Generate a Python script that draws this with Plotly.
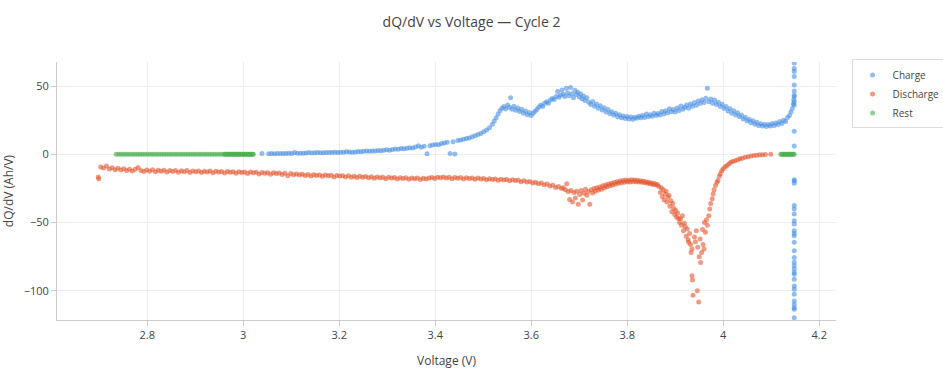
import plotly.graph_objects as go

# ---------------- data ----------------
charge_v = [
    3.039, 3.053, 3.059, 3.065, 3.071, 3.077, 3.083, 3.089, 3.095, 3.101, 3.107, 3.113, 3.119, 3.125,
    3.131, 3.137, 3.143, 3.149, 3.155, 3.161, 3.167, 3.173, 3.179, 3.185, 3.191, 3.197, 3.203, 3.209,
    3.215, 3.221, 3.227, 3.233, 3.239, 3.245, 3.251, 3.257, 3.263, 3.269, 3.275, 3.281, 3.287, 3.293,
    3.299, 3.305, 3.311, 3.317, 3.323, 3.329, 3.335, 3.341, 3.347, 3.353, 3.359, 3.365, 3.371, 3.377,
    3.383, 3.389, 3.395, 3.401, 3.407, 3.413, 3.419, 3.425, 3.431, 3.437, 3.441, 3.447, 3.453, 3.459,
    3.465, 3.471, 3.477, 3.483, 3.489, 3.495, 3.501, 3.507, 3.513, 3.519, 3.523, 3.527, 3.531, 3.535,
    3.539, 3.543, 3.547, 3.551, 3.555, 3.557, 3.560, 3.564, 3.568, 3.572, 3.576, 3.580, 3.584, 3.588,
    3.592, 3.596, 3.600, 3.604, 3.608, 3.612, 3.616, 3.620, 3.624, 3.628, 3.632, 3.636, 3.640, 3.644,
    3.648, 3.652, 3.655, 3.658, 3.661, 3.664, 3.667, 3.670, 3.673, 3.676, 3.679, 3.682, 3.685, 3.688,
    3.691, 3.694, 3.697, 3.700, 3.703, 3.706, 3.709, 3.712, 3.716, 3.720, 3.724, 3.728, 3.732, 3.736,
    3.740, 3.744, 3.748, 3.752, 3.756, 3.760, 3.764, 3.768, 3.772, 3.776, 3.780, 3.784, 3.788, 3.792,
    3.796, 3.800, 3.804, 3.808, 3.812, 3.816, 3.820, 3.824, 3.828, 3.832, 3.836, 3.840, 3.844, 3.848,
    3.852, 3.856, 3.860, 3.864, 3.868, 3.872, 3.876, 3.880, 3.884, 3.888, 3.892, 3.896, 3.900, 3.904,
    3.908, 3.912, 3.916, 3.920, 3.924, 3.928, 3.932, 3.936, 3.940, 3.944, 3.948, 3.952, 3.956, 3.960,
    3.964, 3.967, 3.970, 3.974, 3.978, 3.982, 3.986, 3.990, 3.994, 3.998, 4.002, 4.006, 4.010, 4.014,
    4.018, 4.022, 4.026, 4.030, 4.034, 4.038, 4.042, 4.046, 4.050, 4.054, 4.058, 4.062, 4.066, 4.070,
    4.074, 4.078, 4.082, 4.086, 4.090, 4.094, 4.098, 4.102, 4.106, 4.110, 4.114, 4.118, 4.122, 4.126,
    4.130, 4.134, 4.138, 4.141, 4.144, 4.146, 4.147,
    4.148, 4.148, 4.148, 4.148, 4.148, 4.148, 4.148, 4.148, 4.148, 4.148, 4.148, 4.148, 4.148, 4.148,
    4.148, 4.148, 4.148, 4.148, 4.148, 4.148, 4.148, 4.148, 4.148, 4.148, 4.148, 4.148, 4.148, 4.148,
    4.148, 4.148, 4.148, 4.148, 4.148, 4.148, 4.148, 4.148, 4.148, 4.148, 4.148, 4.148,
]
charge_dqdv = [
    0.6, 0.5, 0.6, 0.5, 0.7, 0.6, 0.7, 0.6, 0.8, 0.7, 1.3, 0.9, 0.8, 0.9,
    1.0, 1.3, 1.0, 1.1, 1.4, 1.2, 1.1, 1.3, 1.4, 1.3, 1.5, 1.4, 1.6, 1.5,
    1.9, 1.7, 1.5, 1.8, 2.1, 2.0, 2.3, 2.4, 2.3, 2.5, 2.4, 2.8, 2.6, 3.0,
    3.3, 3.1, 3.6, 4.0, 3.7, 4.3, 4.1, 4.5, 4.8, 4.6, 5.4, 6.3, 5.2, 6.0,
    0.4, 6.4, 6.9, 7.3, 7.1, 8.0, 8.4, 8.9, 0.6, 9.3, 0.2, 10.1, 10.6, 11.0,
    11.6, 12.0, 12.9, 13.6, 14.5, 15.3, 16.5, 17.9, 19.5, 22.0, 24.5, 26.8, 29.5, 32.0,
    33.8, 35.0, 33.2, 36.1, 34.5, 41.5, 33.0, 35.2, 32.4, 34.0, 31.5, 33.1, 30.2, 31.8,
    29.0, 30.6, 28.5, 30.4, 31.6, 33.0, 34.8, 36.2, 35.0, 37.5, 38.6, 37.4, 39.8, 41.0,
    40.2, 42.5, 46.0, 41.8, 43.5, 47.2, 44.0, 42.5, 48.5, 45.2, 43.0, 49.0, 44.5, 41.5,
    47.0, 43.8, 45.5, 42.0, 44.2, 40.8, 42.8, 39.5, 41.5, 38.2, 36.5, 38.8, 35.2, 37.0,
    33.8, 35.6, 32.5, 34.2, 31.0, 32.8, 29.8, 31.2, 28.8, 30.2, 27.6, 29.0, 26.9, 28.2,
    26.2, 27.8, 26.0, 27.4, 25.8, 27.2, 26.4, 28.0, 26.8, 28.4, 27.0, 29.5, 27.6, 29.0,
    28.0, 30.2, 28.4, 30.0, 28.8, 31.5, 29.6, 32.0, 30.4, 33.5, 31.2, 32.8, 31.0, 34.0,
    32.2, 35.5, 33.0, 34.6, 36.2, 33.8, 37.0, 35.2, 38.0, 36.0, 39.2, 37.2, 40.0, 38.0,
    41.2, 48.4, 38.5, 40.6, 37.4, 39.8, 36.5, 38.2, 35.0, 36.8, 33.6, 35.0, 31.8, 33.5,
    30.2, 32.0, 28.8, 30.5, 27.5, 28.8, 26.0, 27.2, 24.5, 25.8, 23.2, 24.6, 22.0, 23.5,
    21.2, 22.4, 20.8, 22.0, 20.5, 21.8, 20.8, 22.6, 21.2, 23.0, 21.8, 24.0, 22.6, 25.0,
    24.0, 27.0, 28.5, 31.0, 33.7, 37.0, 40.0,
    43.4, 46.5, 50.8, 57.0, 60.7, 63.0, 67.0, 42.3, 38.6, 36.1, 17.0, 6.2, -18.6, -19.5,
    -21.1, -37.5, -40.0, -43.7, -48.6, -51.0, -56.0, -58.0, -59.6, -64.5, -70.7, -75.6, -79.0, -81.7,
    -84.0, -86.6, -87.8, -91.5, -96.5, -98.9, -102.6, -107.5, -110.0, -112.4, -113.6, -119.7,
]

discharge_v = [
    2.698, 2.699, 2.703, 2.709, 2.715, 2.721, 2.727, 2.733, 2.739, 2.745, 2.751, 2.757, 2.763, 2.769,
    2.775, 2.781, 2.787, 2.793, 2.799, 2.805, 2.811, 2.817, 2.823, 2.829, 2.835, 2.841, 2.847, 2.853,
    2.859, 2.865, 2.871, 2.877, 2.883, 2.889, 2.895, 2.901, 2.907, 2.913, 2.919, 2.925, 2.931, 2.937,
    2.943, 2.949, 2.955, 2.961, 2.967, 2.973, 2.979, 2.985, 2.991, 2.997, 3.003, 3.009, 3.015, 3.021,
    3.027, 3.033, 3.039, 3.045, 3.051, 3.057, 3.063, 3.069, 3.075, 3.081, 3.087, 3.093, 3.099, 3.105,
    3.111, 3.117, 3.123, 3.129, 3.135, 3.141, 3.147, 3.153, 3.159, 3.165, 3.171, 3.177, 3.183, 3.189,
    3.195, 3.201, 3.207, 3.213, 3.219, 3.225, 3.231, 3.237, 3.243, 3.249, 3.255, 3.261, 3.267, 3.273,
    3.279, 3.285, 3.291, 3.297, 3.303, 3.309, 3.315, 3.321, 3.327, 3.333, 3.339, 3.345, 3.351, 3.357,
    3.363, 3.369, 3.375, 3.381, 3.387, 3.393, 3.399, 3.405, 3.411, 3.417, 3.423, 3.429, 3.435, 3.441,
    3.447, 3.453, 3.459, 3.465, 3.471, 3.477, 3.483, 3.489, 3.495, 3.501, 3.507, 3.513, 3.519, 3.525,
    3.531, 3.537, 3.543, 3.549, 3.555, 3.561, 3.567, 3.573, 3.579, 3.585, 3.591, 3.597, 3.603, 3.609,
    3.615, 3.621, 3.627, 3.633, 3.639, 3.645, 3.651, 3.657, 3.663, 3.667, 3.671, 3.674, 3.677, 3.680,
    3.683, 3.686, 3.689, 3.692, 3.695, 3.698, 3.701, 3.704, 3.707, 3.710, 3.713, 3.716, 3.719, 3.722,
    3.725, 3.728, 3.731, 3.734, 3.737, 3.740, 3.743, 3.746, 3.749, 3.752, 3.755, 3.758, 3.761, 3.764,
    3.767, 3.770, 3.773, 3.776, 3.779, 3.782, 3.785, 3.788, 3.791, 3.794, 3.797, 3.800, 3.803, 3.806,
    3.809, 3.812, 3.815, 3.818, 3.821, 3.824, 3.827, 3.830, 3.833, 3.836, 3.839, 3.842, 3.845, 3.848,
    3.851, 3.854, 3.857, 3.860, 3.863, 3.866, 3.869, 3.871, 3.873, 3.875, 3.877, 3.879, 3.881, 3.883,
    3.885, 3.887, 3.889, 3.891, 3.893, 3.895, 3.897, 3.899, 3.901, 3.903, 3.905, 3.907, 3.909, 3.911,
    3.913, 3.915, 3.917, 3.919, 3.921, 3.923, 3.925, 3.927, 3.928, 3.930, 3.932, 3.933, 3.935, 3.935,
    3.936, 3.937, 3.940, 3.942, 3.944, 3.946, 3.947, 3.949, 3.950, 3.952, 3.953, 3.955, 3.957, 3.958,
    3.960, 3.961, 3.963, 3.965, 3.967, 3.970, 3.972, 3.974, 3.977, 3.979, 3.981, 3.984, 3.987, 3.989,
    3.992, 3.994, 3.997, 4.000, 4.004, 4.008, 4.012, 4.016, 4.020, 4.025, 4.030, 4.035, 4.040, 4.046,
    4.052, 4.058, 4.064, 4.070, 4.076, 4.082, 4.088, 4.099,
]
discharge_dqdv = [
    -16.6, -17.9, -9.3, -10.0, -8.6, -10.8, -9.8, -11.2, -10.2, -11.5, -10.6, -11.9, -10.9, -12.2,
    -11.0, -9.6, -11.8, -12.6, -11.5, -12.3, -11.2, -12.8, -11.7, -12.4, -11.6, -13.0, -11.9, -12.5,
    -11.8, -13.1, -12.0, -12.7, -11.9, -13.2, -12.1, -12.8, -12.2, -13.3, -12.3, -12.9, -12.1, -13.4,
    -12.4, -13.0, -12.5, -13.6, -12.6, -13.1, -12.7, -13.8, -12.8, -13.3, -12.9, -14.0, -13.0, -13.5,
    -13.1, -14.3, -13.2, -13.8, -13.4, -14.6, -13.5, -14.1, -13.7, -14.8, -13.9, -15.6, -14.1, -14.9,
    -14.3, -15.2, -14.6, -15.5, -14.8, -15.8, -14.9, -15.4, -15.1, -16.0, -15.2, -15.7, -15.3, -16.5,
    -15.4, -15.9, -15.6, -16.6, -15.7, -16.7, -16.0, -17.0, -16.1, -16.8, -16.3, -17.2, -16.4, -17.5,
    -16.6, -17.1, -16.7, -17.8, -16.8, -17.3, -17.0, -18.0, -17.1, -17.6, -17.2, -18.2, -17.3, -17.9,
    -17.4, -18.4, -17.5, -18.1, -17.3, -16.9, -17.6, -16.8, -17.2, -16.6, -17.4, -16.7, -17.8, -16.9,
    -17.5, -17.0, -18.0, -17.2, -17.7, -17.3, -18.3, -17.4, -18.0, -17.6, -18.6, -17.8, -18.4, -18.0,
    -19.0, -18.2, -18.8, -18.4, -19.4, -18.6, -19.2, -18.9, -20.0, -19.3, -20.2, -19.8, -21.0, -20.4,
    -21.5, -21.0, -22.3, -21.8, -23.2, -22.6, -24.2, -23.5, -25.0, -24.4, -26.0, -21.6, -27.2, -33.0,
    -26.5, -35.0, -28.0, -32.0, -27.0, -36.5, -29.5, -26.4, -33.5, -28.5, -25.5, -30.0, -27.2, -36.5,
    -26.0, -28.4, -25.0, -27.0, -24.5, -26.2, -24.0, -25.5, -23.0, -24.6, -22.5, -23.8, -21.8, -23.0,
    -21.2, -22.4, -20.6, -21.8, -20.0, -21.2, -19.6, -20.8, -19.2, -20.4, -18.8, -20.0, -19.0, -20.2,
    -18.6, -19.8, -18.8, -20.0, -19.0, -20.2, -19.3, -20.5, -19.6, -20.8, -20.0, -21.2, -20.4, -21.6,
    -21.0, -22.0, -21.4, -22.4, -22.0, -23.5, -28.0, -24.5, -31.0, -26.0, -33.5, -29.0, -27.0, -35.0,
    -31.5, -30.0, -38.0, -34.0, -42.0, -36.0, -39.5, -44.0, -41.2, -46.0, -43.0, -47.0, -50.0, -47.3,
    -52.0, -45.0, -56.0, -50.5, -53.0, -60.0, -54.7, -62.5, -64.5, -58.0, -66.0, -72.0, -69.4, -89.0,
    -92.0, -103.3, -60.5, -64.0, -56.0, -100.0, -68.0, -108.2, -75.0, -62.0, -79.2, -72.0, -55.0, -66.0,
    -69.4, -50.0, -57.1, -48.0, -52.0, -44.9, -40.0, -36.0, -32.6, -29.0, -26.0, -22.8, -20.5, -19.1,
    -16.0, -14.2, -12.0, -10.5, -9.0, -8.1, -6.9, -5.8, -5.2, -4.6, -4.0, -3.3, -2.8, -2.2,
    -1.7, -1.2, -0.9, -0.6, -0.3, -0.2, -0.1, 0.0,
]

rest_v = [
    2.735, 2.740, 2.745, 2.750, 2.755, 2.760, 2.765, 2.770, 2.775, 2.780, 2.785, 2.790, 2.795, 2.800,
    2.805, 2.810, 2.815, 2.820, 2.825, 2.830, 2.835, 2.840, 2.845, 2.850, 2.855, 2.860, 2.865, 2.870,
    2.875, 2.880, 2.885, 2.890, 2.895, 2.900, 2.905, 2.910, 2.915, 2.920, 2.925, 2.930, 2.935, 2.940,
    2.945, 2.950, 2.955, 2.960, 2.962, 2.964, 2.966, 2.968, 2.970, 2.972, 2.974, 2.976, 2.978, 2.980,
    2.982, 2.984, 2.986, 2.988, 2.990, 2.992, 2.994, 2.996, 2.998, 3.000, 3.002, 3.004, 3.006, 3.008,
    3.010, 3.012, 3.014, 3.016, 3.018, 3.020, 3.021,
    4.120, 4.122, 4.124, 4.126, 4.128, 4.130, 4.132, 4.134, 4.136, 4.138, 4.140, 4.142, 4.144, 4.146,
    4.148,
]
rest_dqdv = [
    0.0, 0.0, 0.0, 0.0, 0.0, 0.0, 0.0, 0.0, 0.0, 0.0, 0.0, 0.0, 0.0, 0.0,
    0.0, 0.0, 0.0, 0.0, 0.0, 0.0, 0.0, 0.0, 0.0, 0.0, 0.0, 0.0, 0.0, 0.0,
    0.0, 0.0, 0.0, 0.0, 0.0, 0.0, 0.0, 0.0, 0.0, 0.0, 0.0, 0.0, 0.0, 0.0,
    0.0, 0.0, 0.0, 0.0, 0.0, 0.0, 0.0, 0.0, 0.0, 0.0, 0.0, 0.0, 0.0, 0.0,
    0.0, 0.0, 0.0, 0.0, 0.0, 0.0, 0.0, 0.0, 0.0, 0.0, 0.0, 0.0, 0.0, 0.0,
    0.0, 0.0, 0.0, 0.0, 0.0, 0.0, 0.0,
    0.0, 0.0, 0.0, 0.0, 0.0, 0.0, 0.0, 0.0, 0.0, 0.0, 0.0, 0.0, 0.0, 0.0,
    0.0,
]

x_ticks = [2.8, 3.0, 3.2, 3.4, 3.6, 3.8, 4.0, 4.2]
x_tick_text = ["2.8", "3", "3.2", "3.4", "3.6", "3.8", "4", "4.2"]
y_ticks = [-100, -50, 0, 50]

# ---------------- figure ----------------
FONT = "Open Sans, verdana, arial, sans-serif"
fig = go.Figure()
fig.add_trace(go.Scatter(x=charge_v, y=charge_dqdv, mode="markers", name="Charge",
                         marker=dict(color="#4a90e2", size=5, opacity=0.6)))
fig.add_trace(go.Scatter(x=discharge_v, y=discharge_dqdv, mode="markers", name="Discharge",
                         marker=dict(color="#e4572e", size=5, opacity=0.6)))
fig.add_trace(go.Scatter(x=rest_v, y=rest_dqdv, mode="markers", name="Rest",
                         marker=dict(color="#4caf50", size=5, opacity=0.6)))

axis_common = dict(showgrid=True, gridcolor="#eeeeee", gridwidth=1,
                   showline=True, linecolor="#cccccc", linewidth=1,
                   ticks="outside", ticklen=5, tickcolor="#cccccc",
                   zeroline=False, automargin=False,
                   tickfont=dict(size=11, color="#444"),
                   title_font=dict(size=12, color="#444"))

fig.update_layout(
    width=943, height=369,
    font=dict(family=FONT, color="#444"),
    paper_bgcolor="white", plot_bgcolor="white",
    margin=dict(l=57, r=107, t=62, b=49, autoexpand=False),
    title=dict(text="dQ/dV vs Voltage — Cycle 2", x=0.5, xanchor="center",
               y=1 - 22 / 369, yanchor="middle", font=dict(size=14, color="#444")),
    legend=dict(x=1.02, y=1.01, xanchor="left", yanchor="top",
                bordercolor="#dddddd", borderwidth=1, font=dict(size=10)),
    showlegend=True,
)
fig.update_xaxes(title_text="Voltage (V)", range=[2.612, 4.235],
                 tickvals=x_ticks, ticktext=x_tick_text, **axis_common)
fig.update_yaxes(title_text="dQ/dV (Ah/V)", range=[-121.4, 67.7],
                 tickvals=y_ticks, **axis_common)

fig.write_html("out.html",
               config={"displayModeBar": False},
               post_script="document.body.style.margin='0';document.body.style.overflow='hidden';")
